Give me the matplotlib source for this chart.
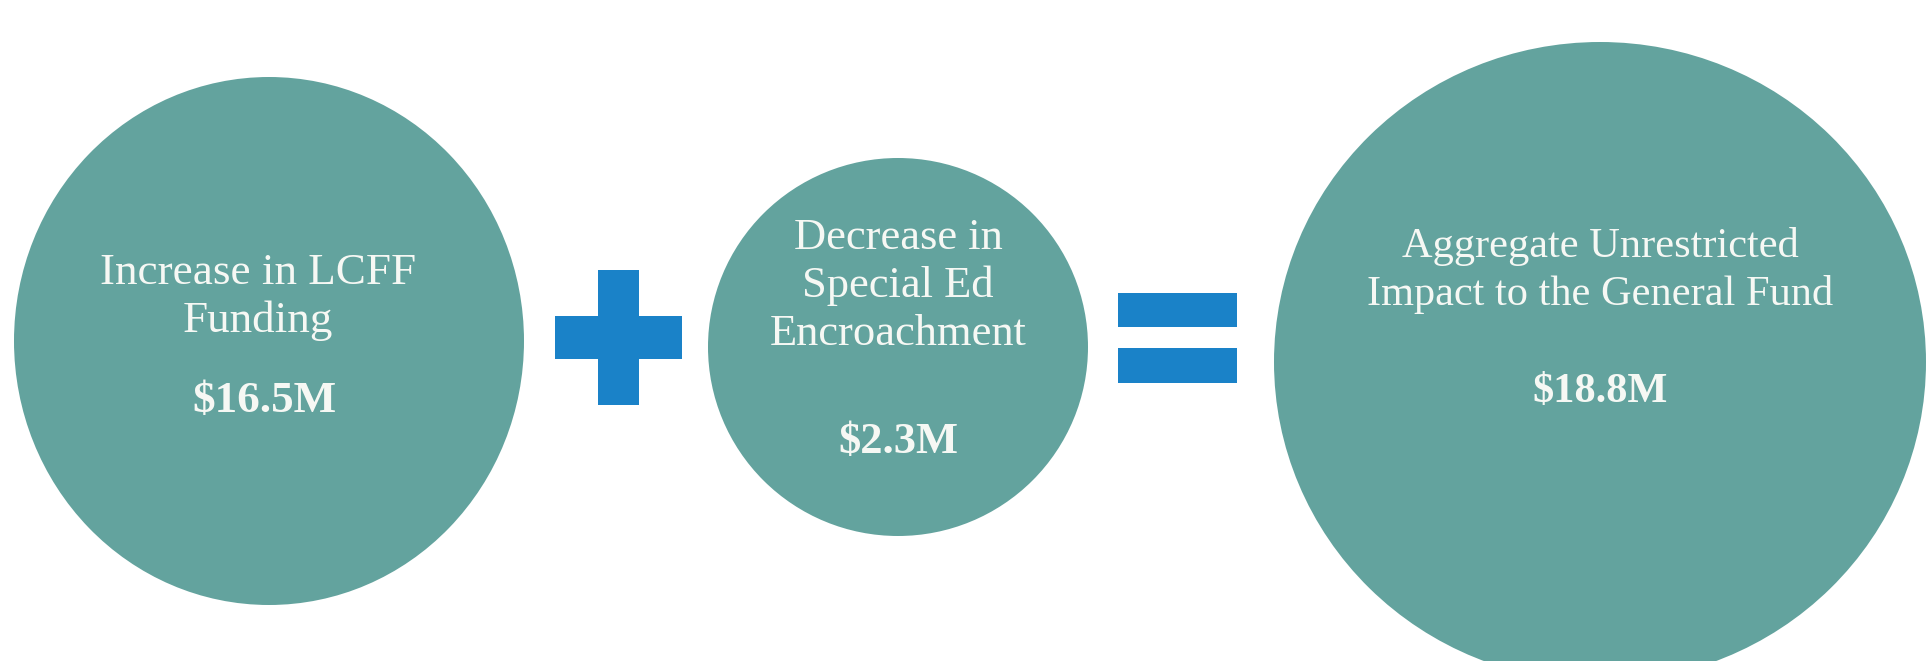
import matplotlib
matplotlib.use('Agg')
import matplotlib.pyplot as plt
from matplotlib.patches import Ellipse, Rectangle

# chart content
labels = [
    ['Increase in LCFF', 'Funding'],
    ['Decrease in', 'Special Ed', 'Encroachment'],
    ['Aggregate Unrestricted', 'Impact to the General Fund'],
]
amounts = ['$16.5M', '$2.3M', '$18.8M']

# layout in pixel units (figure is 1928 x 661)
centers = [(269, 341), (898, 347), (1600, 362)]
radii = [(255, 264), (190, 189), (326, 320)]
text_x = [258, 898, 1600]
amount_x = [264, 898, 1600]
label_top = [273, 238, 246]
amount_y = [401, 442, 392]
font_pt = [32.5, 32, 30.5]
line_step = 48

TEAL = '#63a39e'
BLUE = '#1a82c8'
TXT = '#f6f8f4'

W, H = 1928, 661
fig = plt.figure(figsize=(W / 100, H / 100), dpi=100)
ax = fig.add_axes([0, 0, 1, 1])
ax.set_xlim(0, W)
ax.set_ylim(H, 0)
ax.axis('off')

for i, (cx, cy) in enumerate(centers):
    rx, ry = radii[i]
    ax.add_patch(Ellipse((cx, cy), 2 * rx, 2 * ry, color=TEAL, lw=0))
    for j, line in enumerate(labels[i]):
        ax.text(text_x[i], label_top[i] + j * line_step, line, ha='center', va='center',
                fontsize=font_pt[i], family='Liberation Serif', color=TXT)
    ax.text(amount_x[i], amount_y[i], amounts[i], ha='center', va='center',
            fontsize=font_pt[i], family='Liberation Serif', weight='bold', color=TXT)

# plus sign
ax.add_patch(Rectangle((598, 270), 41, 135, color=BLUE, lw=0))
ax.add_patch(Rectangle((555, 316), 127, 43, color=BLUE, lw=0))

# equals sign
ax.add_patch(Rectangle((1118, 293), 119, 34, color=BLUE, lw=0))
ax.add_patch(Rectangle((1118, 348), 119, 35, color=BLUE, lw=0))

fig.savefig('out.png', dpi=100, facecolor='white')
